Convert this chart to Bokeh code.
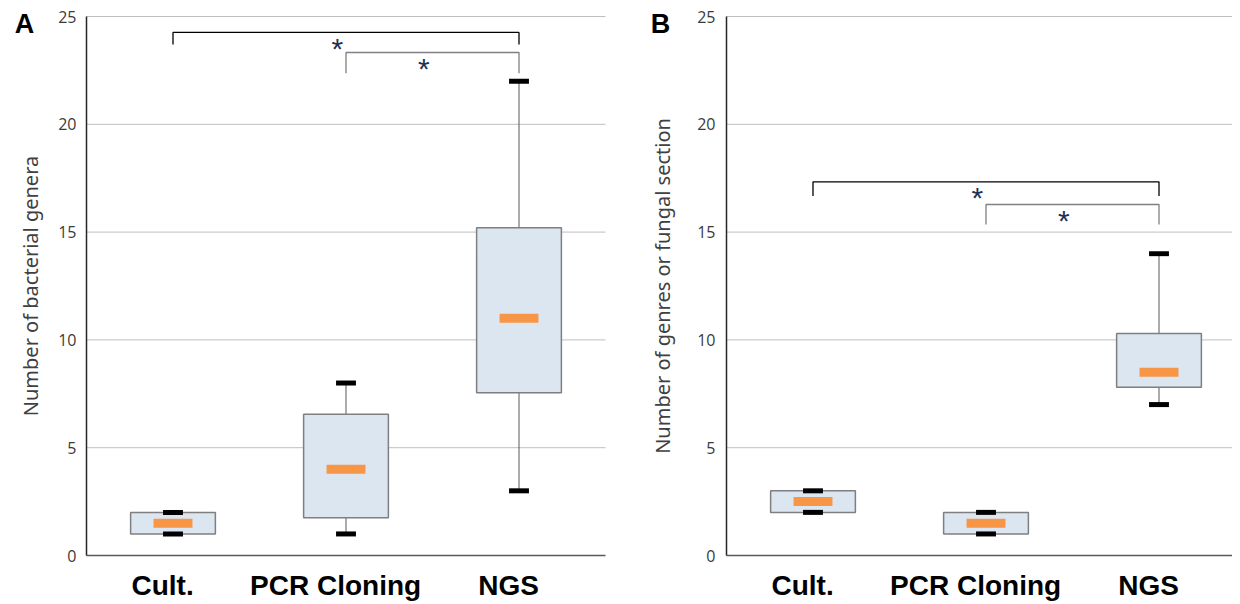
from bokeh.plotting import figure
from bokeh.layouts import row
from bokeh.models import Range1d, FixedTicker, Label, ColumnDataSource
from bokeh.core.properties import value
from bokeh.embed import file_html
from bokeh.resources import INLINE

categories = ["Cult.", "PCR Cloning", "NGS"]

# Panel A: bacterial genera
a_min = [1, 1, 3]
a_q1 = [1, 1.75, 7.55]
a_med = [1.5, 4, 11]
a_q3 = [2, 6.55, 15.2]
a_max = [2, 8, 22]

# Panel B: genres or fungal sections
b_min = [2, 1, 7]
b_q1 = [2, 1, 7.8]
b_med = [2.5, 1.5, 8.5]
b_q3 = [3, 2, 10.3]
b_max = [3, 2, 14]

y_ticks = [0, 5, 10, 15, 20, 25]
sig_pairs = [(0, 2), (1, 2)]
sig_text = ["*", "*"]

# bracket geometry (top of bracket, bottom of legs) per panel
a_brackets = [(24.26, 23.70), (23.33, 22.37)]
b_brackets = [(17.33, 16.67), (16.28, 15.35)]

TICK_FONT = "Open Sans"
LABEL_FONT = "Noto Sans"
PX_PER_UNIT_X = 173.0
PX_PER_UNIT_Y = 21.56
FIG_H = 603
TOP_PX = 16  # distance from top of canvas to the y = 25 line


def make_panel(letter, ylabel, mins, q1, med, q3, maxs, brackets,
               fig_w, axis_px, tick_standoff, label_standoff, letter_px):
    x_start = -axis_px / PX_PER_UNIT_X
    x_end = x_start + fig_w / PX_PER_UNIT_X
    data_end = min(x_end, 3.0)
    y_end = 25 + TOP_PX / PX_PER_UNIT_Y
    y_start = y_end - FIG_H / PX_PER_UNIT_Y
    p = figure(frame_width=fig_w, frame_height=FIG_H,
               min_border_left=0, min_border_right=0,
               min_border_top=0, min_border_bottom=0,
               x_range=Range1d(x_start, x_end), y_range=Range1d(y_start, y_end),
               output_backend="svg", toolbar_location=None,
               background_fill_color="white", border_fill_color="white")
    p.outline_line_color = None
    xs = [i + 0.5 for i in range(len(categories))]
    label_pos = [i + 0.44 for i in range(len(categories))]

    # x axis pinned at y = 0
    p.xaxis.fixed_location = 0
    p.xaxis.bounds = (0, data_end)
    p.xaxis.ticker = FixedTicker(ticks=label_pos)
    p.xaxis.major_label_overrides = {x: c for x, c in zip(label_pos, categories)}
    p.xaxis.major_label_text_font = "Liberation Sans"
    p.xaxis.major_label_text_font_style = "bold"
    p.xaxis.major_label_text_font_size = "28px"
    p.xaxis.major_label_text_color = "black"
    p.xaxis.major_label_standoff = 8
    p.xaxis.major_tick_line_color = None
    p.xaxis.minor_tick_line_color = None
    p.xaxis.axis_line_color = "#595959"
    p.xaxis.axis_line_width = 1.5

    # y axis pinned at x = 0
    p.yaxis.fixed_location = 0
    p.yaxis.bounds = (0, 25)
    p.yaxis.ticker = FixedTicker(ticks=y_ticks)
    p.yaxis.major_label_text_font = TICK_FONT
    p.yaxis.major_label_text_font_size = "16px"
    p.yaxis.major_label_text_color = "#3b3b3b"
    p.yaxis.major_label_standoff = tick_standoff
    p.yaxis.major_tick_line_color = None
    p.yaxis.minor_tick_line_color = None
    p.yaxis.axis_line_color = "#262626"
    p.yaxis.axis_line_width = 1.5
    p.yaxis.axis_label = ylabel
    p.yaxis.axis_label_text_font = LABEL_FONT
    p.yaxis.axis_label_text_font_style = "normal"
    p.yaxis.axis_label_text_font_size = "20px"
    p.yaxis.axis_label_text_color = "#404040"
    p.yaxis.axis_label_standoff = label_standoff

    p.xgrid.grid_line_color = None
    p.ygrid.grid_line_color = None

    # horizontal grid lines, from the y axis to the right edge
    grid_y = [t for t in y_ticks if t > 0]
    p.segment(x0=[0] * len(grid_y), y0=grid_y, x1=[data_end] * len(grid_y), y1=grid_y,
              line_color="#BFBFBF", line_width=1)

    src = ColumnDataSource(dict(x=xs, mn=mins, q1=q1, med=med, q3=q3, mx=maxs))

    # whiskers
    p.segment(x0="x", y0="q3", x1="x", y1="mx", source=src,
              line_color="#595959", line_width=1)
    p.segment(x0="x", y0="q1", x1="x", y1="mn", source=src,
              line_color="#595959", line_width=1)
    # boxes
    p.vbar(x="x", bottom="q1", top="q3", width=0.49, source=src,
           fill_color="#DCE6F1", line_color="#7F7F7F", line_width=1.5)
    # caps
    p.rect(x="x", y="mx", width=0.115, height=5, height_units="screen",
           source=src, fill_color="black", line_color=None)
    p.rect(x="x", y="mn", width=0.115, height=5, height_units="screen",
           source=src, fill_color="black", line_color=None)
    # medians
    p.rect(x="x", y="med", width=0.225, height=9, height_units="screen",
           source=src, fill_color="#F79646", line_color=None)

    # significance brackets
    colors = ["black", "#808080"]
    for (i, j), (top, leg), c, s in zip(sig_pairs, brackets, colors, sig_text):
        xi, xj = xs[i], xs[j]
        p.line(x=[xi, xi, xj, xj], y=[leg, top, top, leg],
               line_color=c, line_width=1.3)
        p.text(x=[(xi + xj) / 2 - 0.05], y=[top - 0.74], text=[s],
               text_font=value("Liberation Sans"), text_font_size="30px",
               text_color="#243052", text_align="center",
               text_baseline="middle")

    # panel letter
    p.add_layout(Label(x=(letter_px - axis_px) / PX_PER_UNIT_X, y=24.63,
                       text=letter, text_font="Liberation Sans",
                       text_font_style="bold", text_font_size="27px",
                       text_color="black", text_align="center",
                       text_baseline="middle"))
    return p


pa = make_panel("A", "Number of bacterial genera", a_min, a_q1, a_med, a_q3, a_max,
                a_brackets, fig_w=620, axis_px=86, tick_standoff=4,
                label_standoff=11, letter_px=24)
pb = make_panel("B", "Number of genres or fungal section", b_min, b_q1, b_med, b_q3, b_max,
                b_brackets, fig_w=612, axis_px=106, tick_standoff=5,
                label_standoff=18, letter_px=40)
layout = row(pa, pb, spacing=0)

open("out.html", "w").write(file_html(layout, INLINE))
